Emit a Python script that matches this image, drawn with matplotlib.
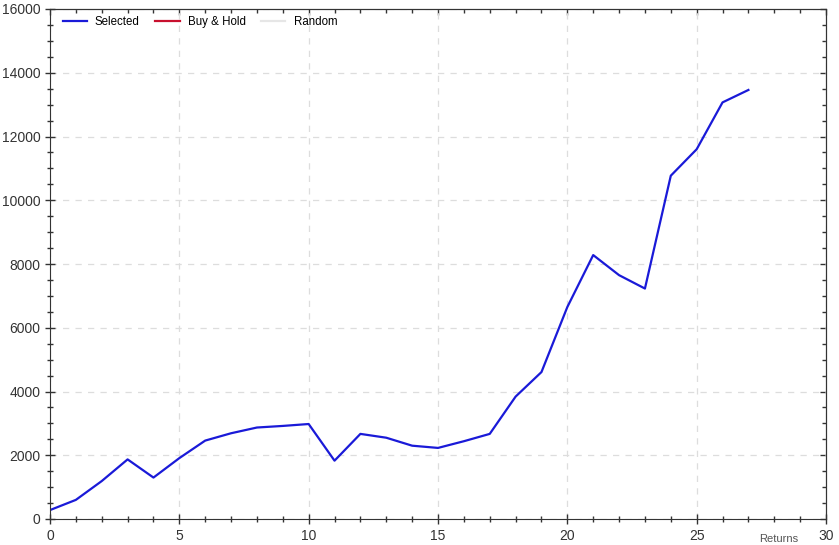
import numpy as np
import matplotlib.pyplot as plt
from matplotlib.ticker import MultipleLocator, NullFormatter

plt.rcParams['font.family'] = ['Liberation Sans', 'DejaVu Sans']

periods = list(range(28))
selected = [280, 600, 1190, 1870, 1300, 1910, 2460, 2690, 2870, 2920, 2980,
            1830, 2670, 2550, 2300, 2230, 2440, 2670, 3840, 4610, 6650,
            8280, 7650, 7230, 10770, 11600, 13070, 13460]
buy_hold = []
random_ret = []

fig = plt.figure(figsize=(8.39, 5.45), dpi=100)
ax = fig.add_axes([50/839, 1-519/545, 776/839, 510/545])

ax.plot(periods, selected, color='#1a1ad8', lw=1.6, label='Selected')
ax.plot(buy_hold, buy_hold, color='#c8102e', lw=1.6, label='Buy & Hold')
ax.plot(random_ret, random_ret, color='#e6e6e6', lw=1.6, label='Random')

ax.set_xlim(0, 30)
ax.set_ylim(0, 16000)
ax.xaxis.set_major_locator(MultipleLocator(5))
ax.xaxis.set_minor_locator(MultipleLocator(1))
ax.yaxis.set_major_locator(MultipleLocator(2000))
ax.yaxis.set_minor_locator(MultipleLocator(500))
ax.tick_params(which='both', direction='inout', labelsize=10,
               colors='#333333', labelcolor='#333333', width=1)
ax.tick_params(which='major', length=7)
ax.tick_params(which='minor', length=5)

# top and right ticks point inward only
top = ax.secondary_xaxis('top')
right = ax.secondary_yaxis('right')
for sec, loc_major, loc_minor in [(top, 5, 1), (right, 2000, 500)]:
    axis = sec.xaxis if sec is top else sec.yaxis
    axis.set_major_locator(MultipleLocator(loc_major))
    axis.set_minor_locator(MultipleLocator(loc_minor))
    axis.set_major_formatter(NullFormatter())
    sec.tick_params(which='both', direction='in', colors='#333333', width=1)
    sec.tick_params(which='major', length=4)
    sec.tick_params(which='minor', length=3)
    for s in sec.spines.values():
        s.set_color('#333333')
for s in ax.spines.values():
    s.set_color('#333333')
ax.grid(True, which='major', ls=(0, (5, 5)), color='#dddddd', lw=0.9)

ax.legend(loc='upper left', ncol=3, frameon=False, fontsize=8.3,
          handlelength=2.1, handletextpad=0.7, columnspacing=1.35,
          bbox_to_anchor=(0.003, 1.006))

fig.text(0.905, 0.002, 'Returns', fontsize=8, color='#555555', ha='left', va='bottom')

fig.savefig('out.png', dpi=100)
